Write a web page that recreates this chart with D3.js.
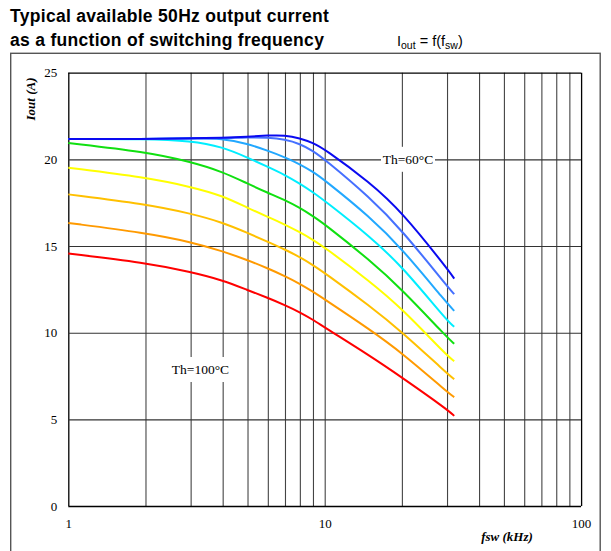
<!DOCTYPE html>
<html>
<head>
<meta charset="utf-8">
<script src="https://cdn.jsdelivr.net/npm/d3@7"></script>
<style>
    body { margin: 0; background: #fff; }
    #chart-area { width: 611px; height: 551px; }
    .title { font-family: "Liberation Sans", Arial, sans-serif; font-weight: bold; font-size: 17.5px; letter-spacing: 0.3px; fill: #000; }
    .subtitle { font-family: "Liberation Sans", Arial, sans-serif; font-size: 14.5px; fill: #000; }
    .tick text { font-family: "Liberation Serif", "Times New Roman", serif; font-size: 13px; fill: #000; }
    .axis-title { font-family: "Liberation Serif", "Times New Roman", serif; font-size: 13px; font-weight: bold; font-style: italic; }
    .curve-label { font-family: "Liberation Serif", "Times New Roman", serif; font-size: 13.5px; fill: #000; }
</style>
</head>
<body>
<div id="chart-area"></div>
<script>

// switching frequency (kHz)
let freqs = [1, 2, 3, 4, 5, 6, 7, 8, 9, 10, 15, 20, 30, 32];

// heatsink temperatures, one curve each
let temps = [60, 65, 70, 75, 80, 85, 90, 95, 100];

// Iout (A) per curve
let iout60  = [21.17, 21.17, 21.22, 21.24, 21.30, 21.38, 21.40, 21.22, 20.95, 20.59, 18.67, 16.97, 13.71, 13.12];
let iout65  = [21.17, 21.17, 21.20, 21.20, 21.28, 21.26, 21.15, 20.90, 20.49, 20.00, 17.80, 15.92, 12.69, 12.22];
let iout70  = [21.17, 21.17, 21.22, 21.22, 20.90, 20.50, 20.12, 19.72, 19.28, 18.80, 16.68, 14.86, 11.69, 11.26];
let iout75  = [21.17, 21.17, 21.07, 20.72, 20.10, 19.57, 19.10, 18.60, 18.10, 17.61, 15.55, 13.84, 10.69, 10.34];
let iout80  = [20.94, 20.43, 19.86, 19.28, 18.60, 18.07, 17.65, 17.20, 16.72, 16.26, 14.18, 12.50, 9.73, 9.36];
let iout85  = [19.52, 18.96, 18.42, 17.90, 17.20, 16.68, 16.24, 15.80, 15.36, 14.92, 12.96, 11.40, 8.67, 8.36];
let iout90  = [17.98, 17.42, 16.88, 16.36, 15.76, 15.24, 14.80, 14.36, 13.90, 13.45, 11.54, 10.05, 7.65, 7.32];
let iout95  = [16.33, 15.76, 15.24, 14.70, 14.19, 13.71, 13.26, 12.82, 12.36, 11.92, 10.18, 8.84, 6.59, 6.28];
let iout100 = [14.57, 14.03, 13.51, 13.03, 12.46, 12.01, 11.59, 11.18, 10.75, 10.30, 8.67, 7.42, 5.58, 5.20];

let curveColors = ["#0a0af0", "#4570ff", "#22a8ff", "#00eeff", "#10e010", "#ffff00", "#ffc000", "#ff9a00", "#ff0000"];

// axis ticks / grid
let xGrid = [1, 2, 3, 4, 5, 6, 7, 8, 9, 10, 20, 30, 40, 50, 60, 70, 80, 90, 100];
let xLabels = [1, 10, 100];
let yTicks = [0, 5, 10, 15, 20, 25];


class CurrentChart {

    constructor(parentElement) {
        this.parentElement = parentElement;
        this.initVis();
    }

    initVis() {
        let vis = this;

        vis.W = 611;
        vis.H = 551;
        vis.margin = {top: 72.7, right: 29.9, bottom: 45, left: 68.3};
        vis.width = vis.W - vis.margin.left - vis.margin.right;
        vis.height = vis.H - vis.margin.top - vis.margin.bottom;

        vis.root = d3.select("#" + vis.parentElement).append("svg")
            .attr("width", vis.W)
            .attr("height", vis.H);

        // outer frame (runs off the bottom)
        vis.root.append("rect")
            .attr("x", 10.7)
            .attr("y", 53.3)
            .attr("width", 589.5)
            .attr("height", 520)
            .attr("fill", "none")
            .attr("stroke", "#555")
            .attr("stroke-width", 1.4);

        // titles
        vis.root.append("text").attr("class", "title")
            .attr("x", 10).attr("y", 22)
            .text("Typical available 50Hz output current");
        vis.root.append("text").attr("class", "title")
            .attr("x", 10).attr("y", 46)
            .text("as a function of switching frequency");

        let sub = vis.root.append("text").attr("class", "subtitle")
            .attr("x", 397).attr("y", 46);
        sub.append("tspan").text("I");
        sub.append("tspan").attr("font-size", "10.5px").attr("dy", 3).text("out");
        sub.append("tspan").attr("dy", -3).text(" = f(f");
        sub.append("tspan").attr("font-size", "10.5px").attr("dy", 3).text("sw");
        sub.append("tspan").attr("dy", -3).text(")");

        vis.svg = vis.root.append("g")
            .attr("transform", `translate (${vis.margin.left}, ${vis.margin.top})`);

        vis.x = d3.scaleLog()
            .domain([1, 100])
            .range([0, vis.width]);

        vis.y = d3.scaleLinear()
            .domain([0, 25])
            .range([vis.height, 0]);

        vis.wrangleData();
    }

    wrangleData() {
        let vis = this;

        let series = [iout60, iout65, iout70, iout75, iout80, iout85, iout90, iout95, iout100];
        vis.displayData = temps.map((t, i) => ({
            temp: t,
            color: curveColors[i],
            values: freqs.map((f, j) => ({f: f, v: series[i][j]}))
        }));

        vis.updateVis();
    }

    updateVis() {
        let vis = this;

        // grid via axes
        let xAxis = d3.axisBottom(vis.x)
            .tickValues(xGrid)
            .tickSize(-vis.height)
            .tickPadding(13)
            .tickFormat(d => xLabels.includes(d) ? d : "");

        let yAxis = d3.axisLeft(vis.y)
            .tickValues(yTicks)
            .tickSize(-vis.width)
            .tickPadding(11);

        let gx = vis.svg.append("g")
            .attr("transform", `translate(0, ${vis.height})`)
            .call(xAxis);
        gx.select(".domain").remove();
        gx.selectAll(".tick line")
            .attr("stroke", d => (d === 1 || d === 100) ? "#000" : "#444")
            .attr("stroke-width", d => (d === 1 || d === 100) ? 1.3 : 1.1);

        let gy = vis.svg.append("g").call(yAxis);
        gy.select(".domain").remove();
        gy.selectAll(".tick line")
            .attr("stroke", d => (d === 0 || d === 25) ? "#000" : "#333")
            .attr("stroke-width", d => (d === 0 || d === 25) ? 1.3 : 1.1);

        // white boxes under the two curve labels
        let labels = [
            {text: "Th=60°C", cx: 408, cy: 159.3, w: 54},
            {text: "Th=100°C", cx: 200.5, cy: 369.5, w: 64}
        ];
        labels.forEach(l => {
            let cx = l.cx - vis.margin.left;
            let cy = l.cy - vis.margin.top;
            vis.svg.append("rect")
                .attr("x", cx - l.w / 2)
                .attr("y", cy - 12.5)
                .attr("width", l.w)
                .attr("height", 25)
                .attr("fill", "#fff");
            vis.svg.append("text")
                .attr("class", "curve-label")
                .attr("x", cx)
                .attr("y", cy)
                .attr("text-anchor", "middle")
                .attr("dominant-baseline", "central")
                .text(l.text);
        });

        // curves
        let line = d3.line()
            .x(d => vis.x(d.f))
            .y(d => vis.y(d.v))
            .curve(d3.curveBasis);

        vis.svg.selectAll(".curve")
            .data(vis.displayData.slice().reverse())
            .enter()
            .append("path")
            .attr("class", "curve")
            .attr("d", d => line(d.values))
            .attr("fill", "none")
            .attr("stroke", d => d.color)
            .attr("stroke-width", 2);

        // axis titles
        vis.root.append("text")
            .attr("class", "axis-title")
            .attr("transform", "translate(35, 99) rotate(-90)")
            .attr("text-anchor", "middle")
            .text("Iout (A)");

        vis.root.append("text")
            .attr("class", "axis-title")
            .attr("x", 507)
            .attr("y", 541)
            .attr("text-anchor", "middle")
            .text("fsw (kHz)");
    }
}

let chart = new CurrentChart("chart-area");

</script>
</body>
</html>
